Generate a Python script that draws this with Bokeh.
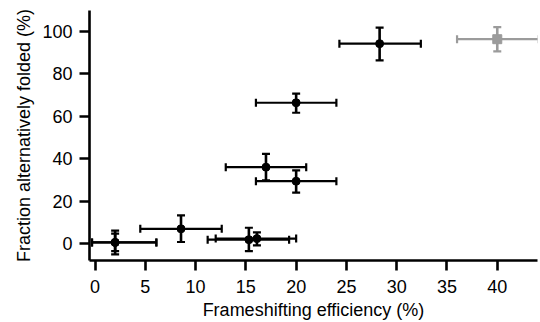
from bokeh.plotting import figure
from bokeh.models import ColumnDataSource, Whisker, TeeHead, Range1d, FixedTicker
from bokeh.embed import file_html
from bokeh.resources import INLINE

# black series
fs_eff = [2.0, 2.0, 8.55, 15.3, 16.1, 17.0, 20.0, 20.0, 28.3]
fs_lo = [-0.3, -0.3, 4.5, 11.2, 12.0, 13.0, 16.0, 16.0, 24.3]
fs_hi = [6.1, 6.1, 12.6, 19.3, 20.0, 21.0, 24.0, 24.0, 32.4]
alt_frac = [0.6, 0.6, 7.0, 1.9, 2.4, 36.0, 29.4, 66.3, 94.1]
alt_lo = [-5.0, -3.5, 0.8, -3.5, -0.8, 29.8, 24.0, 61.6, 86.2]
alt_hi = [6.2, 4.7, 13.3, 7.5, 5.3, 42.3, 34.5, 70.6, 101.6]

# grey series
g_eff = [40.0]
g_lo = [36.0]
g_hi = [44.1]
g_frac = [96.2]
g_flo = [90.5]
g_fhi = [101.9]

x_ticks = [0, 5, 10, 15, 20, 25, 30, 35, 40]
y_ticks = [0, 20, 40, 60, 80, 100]

FONT = "Liberation Sans"

p = figure(width=540, height=322, output_backend="svg", toolbar_location=None,
           x_range=Range1d(-0.55, 44.0), y_range=Range1d(-7.9, 109.7),
           min_border_left=89, min_border_right=3, min_border_top=10, min_border_bottom=62)
p.outline_line_color = None
p.grid.visible = False

for ax in (p.xaxis[0], p.yaxis[0]):
    ax.axis_line_width = 2.6
    ax.axis_line_color = "black"
    ax.major_tick_line_width = 2.6
    ax.major_tick_out = 10
    ax.major_tick_in = 0
    ax.minor_tick_line_color = None
    ax.major_label_text_font = FONT
    ax.major_label_text_font_size = "18px"
    ax.major_label_text_color = "black"
    ax.axis_label_text_font = FONT
    ax.axis_label_text_font_size = "18px"
    ax.axis_label_text_font_style = "normal"
    ax.axis_label_text_color = "black"

p.xaxis.ticker = FixedTicker(ticks=x_ticks)
p.yaxis.ticker = FixedTicker(ticks=y_ticks)
p.xaxis.axis_label = "Frameshifting efficiency (%)"
p.yaxis.axis_label = "Fraction alternatively folded (%)"
p.xaxis.major_label_standoff = 9
p.yaxis.major_label_standoff = 7
p.xaxis.axis_label_standoff = 4
p.yaxis.axis_label_standoff = 5

src = ColumnDataSource(dict(x=fs_eff, xlo=fs_lo, xhi=fs_hi, y=alt_frac, ylo=alt_lo, yhi=alt_hi))
gsrc = ColumnDataSource(dict(x=g_eff, xlo=g_lo, xhi=g_hi, y=g_frac, ylo=g_flo, yhi=g_fhi))

def add_err(source, color):
    head = dict(size=8, line_width=2.2, line_color=color)
    p.add_layout(Whisker(source=source, base="y", lower="xlo", upper="xhi", dimension="width",
                         line_color=color, line_width=2.2,
                         lower_head=TeeHead(**head), upper_head=TeeHead(**head)))
    p.add_layout(Whisker(source=source, base="x", lower="ylo", upper="yhi", dimension="height",
                         line_color=color, line_width=2.6,
                         lower_head=TeeHead(**head), upper_head=TeeHead(**head)))

add_err(src, "black")
add_err(gsrc, "#9b9b9b")
p.scatter("x", "y", source=src, marker="circle", size=8, color="black")
p.scatter("x", "y", source=gsrc, marker="square", size=9, color="#9b9b9b")

open("out.html", "w").write(file_html(p, INLINE))
